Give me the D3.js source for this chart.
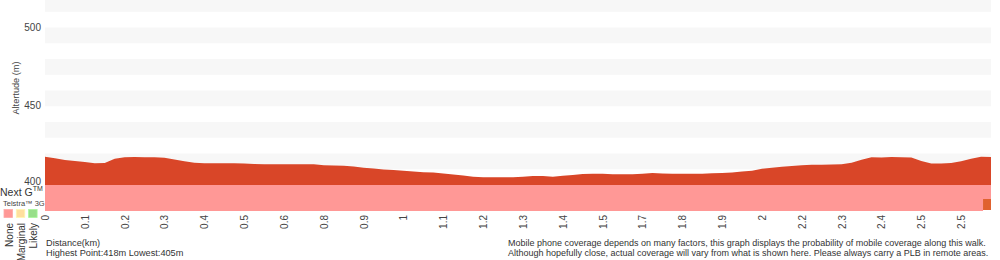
<!DOCTYPE html>
<html>
<head>
<meta charset="utf-8">
<script src="https://cdn.jsdelivr.net/npm/d3@7"></script>
<style>
  body { margin: 0; background: #fff; }
  svg { font-family: "Liberation Sans", Arial, sans-serif; display: block; }
</style>
</head>
<body>
<div id="profile"></div>
<script>
// altitude samples along the walk (m), evenly spaced by sample index
const altitudes = [
  418.0, 417.0, 415.9, 415.2, 414.6, 413.8, 413.9, 416.6, 417.7, 417.8,
  417.6, 417.6, 417.3, 416.2, 415.1, 414.2, 413.8, 413.8, 413.8, 413.8,
  413.6, 413.3, 413.2, 413.1, 413.1, 413.1, 413.1, 413.1, 412.5, 412.4,
  412.3, 411.7, 411.0, 410.5, 409.9, 409.5, 409.0, 408.5, 408.1, 407.9,
  407.3, 406.6, 406.0, 405.3, 405.0, 405.0, 405.0, 405.0, 405.2, 405.7,
  405.7, 405.3, 405.8, 406.4, 407.0, 407.1, 407.1, 406.9, 406.8, 406.8,
  407.1, 407.6, 407.3, 407.1, 407.1, 407.1, 407.2, 407.4, 407.6, 408.0,
  408.5, 409.1, 410.3, 411.0, 411.6, 412.1, 412.6, 412.8, 412.9, 413.0,
  413.1, 414.1, 416.0, 417.6, 417.4, 417.8, 417.7, 417.4, 415.2, 413.7,
  413.6, 414.0, 415.1, 416.7, 418.0, 417.8
];
// distance labels shown every 4th sample
const tickEvery = 4;
const distanceLabels = ['0', '0.1', '0.2', '0.3', '0.4', '0.5', '0.6', '0.8', '0.9', '1', '1.1', '1.2',
  '1.3', '1.4', '1.5', '1.7', '1.8', '1.9', '2', '2.2', '2.3', '2.4', '2.5', '2.5'];
const altTicks = [400, 450, 500];
// coverage runs: [fromSample, toSample, level]
const nextGCoverage = [[0, 95, 'None']];
const telstra3GCoverage = [[0, 94.2, 'None'], [94.2, 95, 'Unknown']];
const legendLevels = ['None', 'Marginal', 'Likely'];
const legendColors = ['#ff9896', '#ffdf9e', '#98df8a'];

const levelColor = { None: '#ff9896', Marginal: '#ffdf9e', Likely: '#98df8a', Unknown: '#e0622f' };

const width = 1000, height = 260;
const svg = d3.select('#profile').append('svg')
  .attr('width', width)
  .attr('height', height);

const x = d3.scaleLinear().domain([0, altitudes.length - 1]).range([45, 991]);
const y = d3.scaleLinear().domain([400, 517.5]).range([185, 0]);

// background stripes every 10m
const stripes = d3.range(410, 520, 20);
svg.append('g').selectAll('rect')
  .data(stripes)
  .join('rect')
    .attr('x', x(0))
    .attr('width', x(altitudes.length - 1) - x(0))
    .attr('y', d => Math.max(0, y(d + 10)))
    .attr('height', d => y(d) - Math.max(0, y(d + 10)))
    .attr('fill', '#f7f7f7');

// elevation area
const area = d3.area()
  .x((d, i) => x(i))
  .y0(y(400))
  .y1(d => y(d));
svg.append('path')
  .datum(altitudes)
  .attr('d', area)
  .attr('fill', '#d94628');

// coverage rows
const rows = [
  { runs: nextGCoverage, top: 185, bottom: 199 },
  { runs: telstra3GCoverage, top: 199, bottom: 211 }
];
rows.forEach(row => {
  svg.append('g').selectAll('rect')
    .data(row.runs)
    .join('rect')
      .attr('x', d => x(d[0]))
      .attr('width', d => x(d[1]) - x(d[0]))
      .attr('y', row.top)
      .attr('height', row.bottom - row.top)
      .attr('fill', d => levelColor[d[2]]);
});
// orange cell is smaller than the row
svg.selectAll('rect').filter(d => Array.isArray(d) && d[2] === 'Unknown')
  .attr('y', 199).attr('height', 11);

// y axis labels
svg.append('g').selectAll('text')
  .data(altTicks)
  .join('text')
    .attr('x', 41)
    .attr('y', d => y(d) + (d === 400 ? 0 : 3))
    .attr('text-anchor', 'end')
    .attr('font-size', 10)
    .attr('fill', '#444')
    .text(d => d);

svg.append('text')
  .attr('transform', `translate(19, ${88}) rotate(-90)`)
  .attr('text-anchor', 'middle')
  .attr('font-size', 9.2)
  .attr('fill', '#444')
  .text('Altertude (m)');

// x tick labels (rotated)
svg.append('g').selectAll('text')
  .data(distanceLabels)
  .join('text')
    .attr('transform', (d, i) => `translate(${x(i * tickEvery) + 4}, 215) rotate(-90)`)
    .attr('text-anchor', 'end')
    .attr('font-size', 10)
    .attr('fill', '#444')
    .text(d => d);

// coverage row labels
const nextG = svg.append('text')
  .attr('x', 0)
  .attr('y', 196)
  .attr('font-size', 10.5)
  .attr('fill', '#333')
  .text('Next G');
nextG.append('tspan')
  .attr('dy', -5)
  .attr('font-size', 7)
  .text('TM');

svg.append('text')
  .attr('x', 3)
  .attr('y', 206)
  .attr('font-size', 7.5)
  .attr('fill', '#444')
  .text('Telstra™ 3G');

// legend
svg.append('g').selectAll('rect')
  .data(legendLevels)
  .join('rect')
    .attr('x', (d, i) => 4 + i * 12.3)
    .attr('y', 209.5)
    .attr('width', 8.5)
    .attr('height', 8)
    .attr('fill', (d, i) => legendColors[i])
    .attr('stroke', (d, i) => d3.color(legendColors[i]).brighter(0.3))
    .attr('stroke-width', 0.8);

svg.append('g').selectAll('text')
  .data(legendLevels)
  .join('text')
    .attr('transform', (d, i) => `translate(${12.5 + i * 12.3}, 223) rotate(-90)`)
    .attr('text-anchor', 'end')
    .attr('font-size', 10)
    .attr('fill', '#333')
    .text(d => d);

// footer texts
svg.append('text')
  .attr('x', 46).attr('y', 246)
  .attr('font-size', 9.2).attr('fill', '#333')
  .text('Distance(km)');
svg.append('text')
  .attr('x', 46).attr('y', 256)
  .attr('font-size', 9.2).attr('fill', '#333')
  .text('Highest Point:418m Lowest:405m');
svg.append('text')
  .attr('x', 508).attr('y', 246)
  .attr('font-size', 9).attr('fill', '#333')
  .text('Mobile phone coverage depends on many factors, this graph displays the probability of mobile coverage along this walk.');
svg.append('text')
  .attr('x', 508).attr('y', 256)
  .attr('font-size', 9).attr('fill', '#333')
  .text('Although hopefully close, actual coverage will vary from what is shown here. Please always carry a PLB in remote areas.');
</script>
</body>
</html>
